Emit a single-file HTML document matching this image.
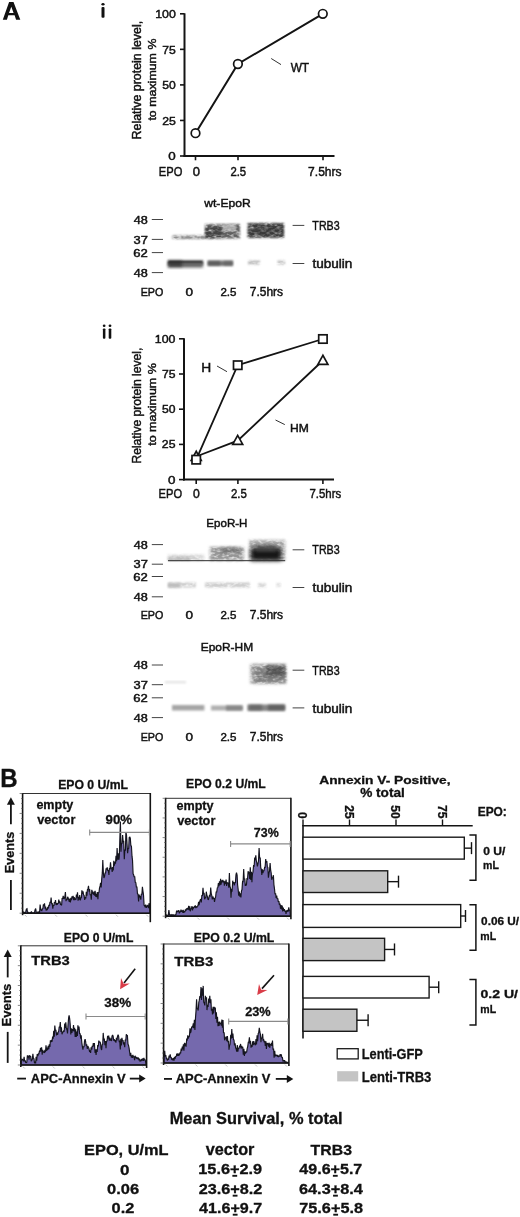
<!DOCTYPE html>
<html><head><meta charset="utf-8"><style>
html,body{margin:0;padding:0;background:#fff;}
body{width:520px;height:1217px;overflow:hidden;}
svg{display:block;font-family:"Liberation Sans",sans-serif;filter:blur(0.3px);}
</style></head><body>
<svg width="520" height="1217" viewBox="0 0 520 1217">
<defs>
<filter id="b4" x="-20%" y="-50%" width="140%" height="200%"><feGaussianBlur stdDeviation="0.4"/></filter>
<filter id="t4" x="-20%" y="-50%" width="140%" height="200%" color-interpolation-filters="sRGB"><feGaussianBlur in="SourceGraphic" stdDeviation="0.4" result="bl"/><feTurbulence type="fractalNoise" baseFrequency="0.22 0.4" numOctaves="2" seed="4" result="n"/><feColorMatrix in="n" type="matrix" values="0 0 0 0 0  0 0 0 0 0  0 0 0 0 0  0 0 0 1.70 0.00" result="na"/><feComposite in="bl" in2="na" operator="in"/><feGaussianBlur stdDeviation="0.35"/></filter>
<filter id="b5" x="-20%" y="-50%" width="140%" height="200%"><feGaussianBlur stdDeviation="0.5"/></filter>
<filter id="t5" x="-20%" y="-50%" width="140%" height="200%" color-interpolation-filters="sRGB"><feGaussianBlur in="SourceGraphic" stdDeviation="0.5" result="bl"/><feTurbulence type="fractalNoise" baseFrequency="0.22 0.4" numOctaves="2" seed="5" result="n"/><feColorMatrix in="n" type="matrix" values="0 0 0 0 0  0 0 0 0 0  0 0 0 0 0  0 0 0 1.70 0.00" result="na"/><feComposite in="bl" in2="na" operator="in"/><feGaussianBlur stdDeviation="0.35"/></filter>
<filter id="b6" x="-20%" y="-50%" width="140%" height="200%"><feGaussianBlur stdDeviation="0.6"/></filter>
<filter id="t6" x="-20%" y="-50%" width="140%" height="200%" color-interpolation-filters="sRGB"><feGaussianBlur in="SourceGraphic" stdDeviation="0.6" result="bl"/><feTurbulence type="fractalNoise" baseFrequency="0.22 0.4" numOctaves="2" seed="6" result="n"/><feColorMatrix in="n" type="matrix" values="0 0 0 0 0  0 0 0 0 0  0 0 0 0 0  0 0 0 1.70 0.00" result="na"/><feComposite in="bl" in2="na" operator="in"/><feGaussianBlur stdDeviation="0.35"/></filter>
<filter id="b7" x="-20%" y="-50%" width="140%" height="200%"><feGaussianBlur stdDeviation="0.7"/></filter>
<filter id="t7" x="-20%" y="-50%" width="140%" height="200%" color-interpolation-filters="sRGB"><feGaussianBlur in="SourceGraphic" stdDeviation="0.7" result="bl"/><feTurbulence type="fractalNoise" baseFrequency="0.22 0.4" numOctaves="2" seed="7" result="n"/><feColorMatrix in="n" type="matrix" values="0 0 0 0 0  0 0 0 0 0  0 0 0 0 0  0 0 0 1.70 0.00" result="na"/><feComposite in="bl" in2="na" operator="in"/><feGaussianBlur stdDeviation="0.35"/></filter>
<filter id="b8" x="-20%" y="-50%" width="140%" height="200%"><feGaussianBlur stdDeviation="0.8"/></filter>
<filter id="t8" x="-20%" y="-50%" width="140%" height="200%" color-interpolation-filters="sRGB"><feGaussianBlur in="SourceGraphic" stdDeviation="0.8" result="bl"/><feTurbulence type="fractalNoise" baseFrequency="0.22 0.4" numOctaves="2" seed="8" result="n"/><feColorMatrix in="n" type="matrix" values="0 0 0 0 0  0 0 0 0 0  0 0 0 0 0  0 0 0 1.70 0.00" result="na"/><feComposite in="bl" in2="na" operator="in"/><feGaussianBlur stdDeviation="0.35"/></filter>
<filter id="b9" x="-20%" y="-50%" width="140%" height="200%"><feGaussianBlur stdDeviation="0.9"/></filter>
<filter id="t9" x="-20%" y="-50%" width="140%" height="200%" color-interpolation-filters="sRGB"><feGaussianBlur in="SourceGraphic" stdDeviation="0.9" result="bl"/><feTurbulence type="fractalNoise" baseFrequency="0.22 0.4" numOctaves="2" seed="9" result="n"/><feColorMatrix in="n" type="matrix" values="0 0 0 0 0  0 0 0 0 0  0 0 0 0 0  0 0 0 1.70 0.00" result="na"/><feComposite in="bl" in2="na" operator="in"/><feGaussianBlur stdDeviation="0.35"/></filter>
<filter id="b10" x="-20%" y="-50%" width="140%" height="200%"><feGaussianBlur stdDeviation="1.0"/></filter>
<filter id="t10" x="-20%" y="-50%" width="140%" height="200%" color-interpolation-filters="sRGB"><feGaussianBlur in="SourceGraphic" stdDeviation="1.0" result="bl"/><feTurbulence type="fractalNoise" baseFrequency="0.22 0.4" numOctaves="2" seed="10" result="n"/><feColorMatrix in="n" type="matrix" values="0 0 0 0 0  0 0 0 0 0  0 0 0 0 0  0 0 0 1.70 0.00" result="na"/><feComposite in="bl" in2="na" operator="in"/><feGaussianBlur stdDeviation="0.35"/></filter>
<filter id="b11" x="-20%" y="-50%" width="140%" height="200%"><feGaussianBlur stdDeviation="1.1"/></filter>
<filter id="t11" x="-20%" y="-50%" width="140%" height="200%" color-interpolation-filters="sRGB"><feGaussianBlur in="SourceGraphic" stdDeviation="1.1" result="bl"/><feTurbulence type="fractalNoise" baseFrequency="0.22 0.4" numOctaves="2" seed="11" result="n"/><feColorMatrix in="n" type="matrix" values="0 0 0 0 0  0 0 0 0 0  0 0 0 0 0  0 0 0 1.70 0.00" result="na"/><feComposite in="bl" in2="na" operator="in"/><feGaussianBlur stdDeviation="0.35"/></filter>
<filter id="b12" x="-20%" y="-50%" width="140%" height="200%"><feGaussianBlur stdDeviation="1.2"/></filter>
<filter id="t12" x="-20%" y="-50%" width="140%" height="200%" color-interpolation-filters="sRGB"><feGaussianBlur in="SourceGraphic" stdDeviation="1.2" result="bl"/><feTurbulence type="fractalNoise" baseFrequency="0.22 0.4" numOctaves="2" seed="12" result="n"/><feColorMatrix in="n" type="matrix" values="0 0 0 0 0  0 0 0 0 0  0 0 0 0 0  0 0 0 1.70 0.00" result="na"/><feComposite in="bl" in2="na" operator="in"/><feGaussianBlur stdDeviation="0.35"/></filter>
<filter id="b13" x="-20%" y="-50%" width="140%" height="200%"><feGaussianBlur stdDeviation="1.3"/></filter>
<filter id="t13" x="-20%" y="-50%" width="140%" height="200%" color-interpolation-filters="sRGB"><feGaussianBlur in="SourceGraphic" stdDeviation="1.3" result="bl"/><feTurbulence type="fractalNoise" baseFrequency="0.22 0.4" numOctaves="2" seed="13" result="n"/><feColorMatrix in="n" type="matrix" values="0 0 0 0 0  0 0 0 0 0  0 0 0 0 0  0 0 0 1.70 0.00" result="na"/><feComposite in="bl" in2="na" operator="in"/><feGaussianBlur stdDeviation="0.35"/></filter>
<filter id="b14" x="-20%" y="-50%" width="140%" height="200%"><feGaussianBlur stdDeviation="1.4"/></filter>
<filter id="t14" x="-20%" y="-50%" width="140%" height="200%" color-interpolation-filters="sRGB"><feGaussianBlur in="SourceGraphic" stdDeviation="1.4" result="bl"/><feTurbulence type="fractalNoise" baseFrequency="0.22 0.4" numOctaves="2" seed="14" result="n"/><feColorMatrix in="n" type="matrix" values="0 0 0 0 0  0 0 0 0 0  0 0 0 0 0  0 0 0 1.70 0.00" result="na"/><feComposite in="bl" in2="na" operator="in"/><feGaussianBlur stdDeviation="0.35"/></filter>
<filter id="b15" x="-20%" y="-50%" width="140%" height="200%"><feGaussianBlur stdDeviation="1.5"/></filter>
<filter id="t15" x="-20%" y="-50%" width="140%" height="200%" color-interpolation-filters="sRGB"><feGaussianBlur in="SourceGraphic" stdDeviation="1.5" result="bl"/><feTurbulence type="fractalNoise" baseFrequency="0.22 0.4" numOctaves="2" seed="15" result="n"/><feColorMatrix in="n" type="matrix" values="0 0 0 0 0  0 0 0 0 0  0 0 0 0 0  0 0 0 1.70 0.00" result="na"/><feComposite in="bl" in2="na" operator="in"/><feGaussianBlur stdDeviation="0.35"/></filter>
<filter id="b16" x="-20%" y="-50%" width="140%" height="200%"><feGaussianBlur stdDeviation="1.6"/></filter>
<filter id="t16" x="-20%" y="-50%" width="140%" height="200%" color-interpolation-filters="sRGB"><feGaussianBlur in="SourceGraphic" stdDeviation="1.6" result="bl"/><feTurbulence type="fractalNoise" baseFrequency="0.22 0.4" numOctaves="2" seed="16" result="n"/><feColorMatrix in="n" type="matrix" values="0 0 0 0 0  0 0 0 0 0  0 0 0 0 0  0 0 0 1.70 0.00" result="na"/><feComposite in="bl" in2="na" operator="in"/><feGaussianBlur stdDeviation="0.35"/></filter>
<filter id="b17" x="-20%" y="-50%" width="140%" height="200%"><feGaussianBlur stdDeviation="1.7"/></filter>
<filter id="t17" x="-20%" y="-50%" width="140%" height="200%" color-interpolation-filters="sRGB"><feGaussianBlur in="SourceGraphic" stdDeviation="1.7" result="bl"/><feTurbulence type="fractalNoise" baseFrequency="0.22 0.4" numOctaves="2" seed="17" result="n"/><feColorMatrix in="n" type="matrix" values="0 0 0 0 0  0 0 0 0 0  0 0 0 0 0  0 0 0 1.70 0.00" result="na"/><feComposite in="bl" in2="na" operator="in"/><feGaussianBlur stdDeviation="0.35"/></filter>
<filter id="b18" x="-20%" y="-50%" width="140%" height="200%"><feGaussianBlur stdDeviation="1.8"/></filter>
<filter id="t18" x="-20%" y="-50%" width="140%" height="200%" color-interpolation-filters="sRGB"><feGaussianBlur in="SourceGraphic" stdDeviation="1.8" result="bl"/><feTurbulence type="fractalNoise" baseFrequency="0.22 0.4" numOctaves="2" seed="18" result="n"/><feColorMatrix in="n" type="matrix" values="0 0 0 0 0  0 0 0 0 0  0 0 0 0 0  0 0 0 1.70 0.00" result="na"/><feComposite in="bl" in2="na" operator="in"/><feGaussianBlur stdDeviation="0.35"/></filter>
<filter id="b19" x="-20%" y="-50%" width="140%" height="200%"><feGaussianBlur stdDeviation="1.9"/></filter>
<filter id="t19" x="-20%" y="-50%" width="140%" height="200%" color-interpolation-filters="sRGB"><feGaussianBlur in="SourceGraphic" stdDeviation="1.9" result="bl"/><feTurbulence type="fractalNoise" baseFrequency="0.22 0.4" numOctaves="2" seed="19" result="n"/><feColorMatrix in="n" type="matrix" values="0 0 0 0 0  0 0 0 0 0  0 0 0 0 0  0 0 0 1.70 0.00" result="na"/><feComposite in="bl" in2="na" operator="in"/><feGaussianBlur stdDeviation="0.35"/></filter>
<filter id="b20" x="-20%" y="-50%" width="140%" height="200%"><feGaussianBlur stdDeviation="2.0"/></filter>
<filter id="t20" x="-20%" y="-50%" width="140%" height="200%" color-interpolation-filters="sRGB"><feGaussianBlur in="SourceGraphic" stdDeviation="2.0" result="bl"/><feTurbulence type="fractalNoise" baseFrequency="0.22 0.4" numOctaves="2" seed="20" result="n"/><feColorMatrix in="n" type="matrix" values="0 0 0 0 0  0 0 0 0 0  0 0 0 0 0  0 0 0 1.70 0.00" result="na"/><feComposite in="bl" in2="na" operator="in"/><feGaussianBlur stdDeviation="0.35"/></filter>
<filter id="b21" x="-20%" y="-50%" width="140%" height="200%"><feGaussianBlur stdDeviation="2.1"/></filter>
<filter id="t21" x="-20%" y="-50%" width="140%" height="200%" color-interpolation-filters="sRGB"><feGaussianBlur in="SourceGraphic" stdDeviation="2.1" result="bl"/><feTurbulence type="fractalNoise" baseFrequency="0.22 0.4" numOctaves="2" seed="21" result="n"/><feColorMatrix in="n" type="matrix" values="0 0 0 0 0  0 0 0 0 0  0 0 0 0 0  0 0 0 1.70 0.00" result="na"/><feComposite in="bl" in2="na" operator="in"/><feGaussianBlur stdDeviation="0.35"/></filter>
<filter id="b22" x="-20%" y="-50%" width="140%" height="200%"><feGaussianBlur stdDeviation="2.2"/></filter>
<filter id="t22" x="-20%" y="-50%" width="140%" height="200%" color-interpolation-filters="sRGB"><feGaussianBlur in="SourceGraphic" stdDeviation="2.2" result="bl"/><feTurbulence type="fractalNoise" baseFrequency="0.22 0.4" numOctaves="2" seed="22" result="n"/><feColorMatrix in="n" type="matrix" values="0 0 0 0 0  0 0 0 0 0  0 0 0 0 0  0 0 0 1.70 0.00" result="na"/><feComposite in="bl" in2="na" operator="in"/><feGaussianBlur stdDeviation="0.35"/></filter>
<filter id="b23" x="-20%" y="-50%" width="140%" height="200%"><feGaussianBlur stdDeviation="2.3"/></filter>
<filter id="t23" x="-20%" y="-50%" width="140%" height="200%" color-interpolation-filters="sRGB"><feGaussianBlur in="SourceGraphic" stdDeviation="2.3" result="bl"/><feTurbulence type="fractalNoise" baseFrequency="0.22 0.4" numOctaves="2" seed="23" result="n"/><feColorMatrix in="n" type="matrix" values="0 0 0 0 0  0 0 0 0 0  0 0 0 0 0  0 0 0 1.70 0.00" result="na"/><feComposite in="bl" in2="na" operator="in"/><feGaussianBlur stdDeviation="0.35"/></filter>
<filter id="b24" x="-20%" y="-50%" width="140%" height="200%"><feGaussianBlur stdDeviation="2.4"/></filter>
<filter id="t24" x="-20%" y="-50%" width="140%" height="200%" color-interpolation-filters="sRGB"><feGaussianBlur in="SourceGraphic" stdDeviation="2.4" result="bl"/><feTurbulence type="fractalNoise" baseFrequency="0.22 0.4" numOctaves="2" seed="24" result="n"/><feColorMatrix in="n" type="matrix" values="0 0 0 0 0  0 0 0 0 0  0 0 0 0 0  0 0 0 1.70 0.00" result="na"/><feComposite in="bl" in2="na" operator="in"/><feGaussianBlur stdDeviation="0.35"/></filter>
<filter id="b25" x="-20%" y="-50%" width="140%" height="200%"><feGaussianBlur stdDeviation="2.5"/></filter>
<filter id="t25" x="-20%" y="-50%" width="140%" height="200%" color-interpolation-filters="sRGB"><feGaussianBlur in="SourceGraphic" stdDeviation="2.5" result="bl"/><feTurbulence type="fractalNoise" baseFrequency="0.22 0.4" numOctaves="2" seed="25" result="n"/><feColorMatrix in="n" type="matrix" values="0 0 0 0 0  0 0 0 0 0  0 0 0 0 0  0 0 0 1.70 0.00" result="na"/><feComposite in="bl" in2="na" operator="in"/><feGaussianBlur stdDeviation="0.35"/></filter>
</defs>
<rect width="520" height="1217" fill="#fff"/>
<path d="M2.8,19.7 L9.1,2.0 L13.5,2.0 L20.3,19.7 L16.1,19.7 L14.6,15.3 L8.3,15.3 L6.9,19.7 Z M11.3,6.8 L9.0,12.9 L13.6,12.9 Z" fill="#111" fill-rule="evenodd"/>
<rect x="101.50" y="6.90" width="3.00" height="10.90" rx="1.05" fill="#111"/>
<ellipse cx="103.00" cy="4.25" rx="1.60" ry="1.35" fill="#111"/>
<line x1="184.50" y1="13.30" x2="184.50" y2="157.00" stroke="#141414" stroke-width="2.00"/>
<line x1="183.50" y1="156.00" x2="334.50" y2="156.00" stroke="#141414" stroke-width="2.00"/>
<line x1="180.00" y1="13.80" x2="184.50" y2="13.80" stroke="#141414" stroke-width="1.60"/>
<line x1="180.00" y1="49.35" x2="184.50" y2="49.35" stroke="#141414" stroke-width="1.60"/>
<line x1="180.00" y1="84.90" x2="184.50" y2="84.90" stroke="#141414" stroke-width="1.60"/>
<line x1="180.00" y1="120.45" x2="184.50" y2="120.45" stroke="#141414" stroke-width="1.60"/>
<line x1="180.00" y1="156.00" x2="184.50" y2="156.00" stroke="#141414" stroke-width="1.60"/>
<line x1="195.50" y1="156.00" x2="195.50" y2="160.30" stroke="#141414" stroke-width="1.60"/>
<line x1="238.00" y1="156.00" x2="238.00" y2="160.30" stroke="#141414" stroke-width="1.60"/>
<line x1="323.00" y1="156.00" x2="323.00" y2="160.30" stroke="#141414" stroke-width="1.60"/>
<text x="155.17" y="18.19" font-size="11.31" font-weight="normal" textLength="20.60" lengthAdjust="spacingAndGlyphs" fill="#111" stroke="#111" stroke-width="0.45">100</text>
<text x="162.29" y="53.69" font-size="11.47" font-weight="normal" textLength="13.52" lengthAdjust="spacingAndGlyphs" fill="#111" stroke="#111" stroke-width="0.45">75</text>
<text x="162.32" y="89.19" font-size="11.31" font-weight="normal" textLength="13.47" lengthAdjust="spacingAndGlyphs" fill="#111" stroke="#111" stroke-width="0.45">50</text>
<text x="162.19" y="124.69" font-size="11.31" font-weight="normal" textLength="13.63" lengthAdjust="spacingAndGlyphs" fill="#111" stroke="#111" stroke-width="0.45">25</text>
<text x="168.36" y="160.09" font-size="11.31" font-weight="normal" textLength="7.45" lengthAdjust="spacingAndGlyphs" fill="#111" stroke="#111" stroke-width="0.45">0</text>
<g transform="rotate(-90 138.40 80.20)">
<text x="79.13" y="83.31" font-size="12.01" font-weight="normal" textLength="118.65" lengthAdjust="spacingAndGlyphs" fill="#111" stroke="#111" stroke-width="0.45">Relative protein level,</text>
</g>
<g transform="rotate(-90 151.60 79.70)">
<text x="110.71" y="83.75" font-size="11.17" font-weight="normal" textLength="82.02" lengthAdjust="spacingAndGlyphs" fill="#111" stroke="#111" stroke-width="0.45">to maximum %</text>
</g>
<text x="158.78" y="175.50" font-size="12.19" font-weight="normal" textLength="23.54" lengthAdjust="spacingAndGlyphs" fill="#111" stroke="#111" stroke-width="0.45">EPO</text>
<text x="192.88" y="175.50" font-size="11.90" font-weight="normal" textLength="7.22" lengthAdjust="spacingAndGlyphs" fill="#111" stroke="#111" stroke-width="0.45">0</text>
<text x="230.43" y="175.50" font-size="11.90" font-weight="normal" textLength="15.72" lengthAdjust="spacingAndGlyphs" fill="#111" stroke="#111" stroke-width="0.45">2.5</text>
<text x="308.10" y="175.50" font-size="12.55" font-weight="normal" textLength="33.52" lengthAdjust="spacingAndGlyphs" fill="#111" stroke="#111" stroke-width="0.45">7.5hrs</text>
<polyline points="195.5,133.2 237.9,64.0 322.8,13.8" fill="none" stroke="#141414" stroke-width="2"/>
<circle cx="195.5" cy="133.2" r="4.3" fill="#fff" stroke="#141414" stroke-width="1.7"/>
<circle cx="237.9" cy="64.0" r="4.3" fill="#fff" stroke="#141414" stroke-width="1.7"/>
<circle cx="322.8" cy="13.8" r="4.3" fill="#fff" stroke="#141414" stroke-width="1.7"/>
<line x1="271.20" y1="58.50" x2="281.00" y2="64.60" stroke="#333" stroke-width="1.00"/>
<text x="290.64" y="71.90" font-size="12.95" font-weight="normal" textLength="18.52" lengthAdjust="spacingAndGlyphs" fill="#111" stroke="#111" stroke-width="0.45">WT</text>
<text x="204.23" y="206.80" font-size="11.78" font-weight="normal" textLength="46.54" lengthAdjust="spacingAndGlyphs" fill="#111" stroke="#111" stroke-width="0.45">wt-EpoR</text>
<text x="133.72" y="223.79" font-size="10.88" font-weight="normal" textLength="14.05" lengthAdjust="spacingAndGlyphs" fill="#111" stroke="#111" stroke-width="0.45">48</text>
<line x1="151.80" y1="219.50" x2="163.00" y2="219.50" stroke="#444" stroke-width="1.00"/>
<text x="133.52" y="243.69" font-size="10.88" font-weight="normal" textLength="14.36" lengthAdjust="spacingAndGlyphs" fill="#111" stroke="#111" stroke-width="0.45">37</text>
<line x1="151.80" y1="239.40" x2="163.00" y2="239.40" stroke="#444" stroke-width="1.00"/>
<text x="133.35" y="256.89" font-size="10.88" font-weight="normal" textLength="14.54" lengthAdjust="spacingAndGlyphs" fill="#111" stroke="#111" stroke-width="0.45">62</text>
<line x1="151.80" y1="252.60" x2="163.00" y2="252.60" stroke="#444" stroke-width="1.00"/>
<text x="133.72" y="276.89" font-size="10.88" font-weight="normal" textLength="14.05" lengthAdjust="spacingAndGlyphs" fill="#111" stroke="#111" stroke-width="0.45">48</text>
<line x1="151.80" y1="272.60" x2="163.00" y2="272.60" stroke="#444" stroke-width="1.00"/>
<line x1="292.60" y1="225.40" x2="304.30" y2="225.40" stroke="#444" stroke-width="1.00"/>
<text x="312.36" y="229.70" font-size="12.76" font-weight="normal" textLength="27.31" lengthAdjust="spacingAndGlyphs" fill="#111" stroke="#111" stroke-width="0.45">TRB3</text>
<line x1="292.60" y1="263.50" x2="304.30" y2="263.50" stroke="#444" stroke-width="1.00"/>
<text x="312.40" y="268.20" font-size="12.00" font-weight="normal" textLength="39.98" lengthAdjust="spacingAndGlyphs" fill="#111" stroke="#111" stroke-width="0.45">tubulin</text>
<text x="140.71" y="296.00" font-size="11.61" font-weight="normal" textLength="22.69" lengthAdjust="spacingAndGlyphs" fill="#111" stroke="#111" stroke-width="0.45">EPO</text>
<text x="185.46" y="296.20" font-size="11.61" font-weight="normal" textLength="7.57" lengthAdjust="spacingAndGlyphs" fill="#111" stroke="#111" stroke-width="0.45">0</text>
<text x="220.42" y="296.20" font-size="11.61" font-weight="normal" textLength="16.04" lengthAdjust="spacingAndGlyphs" fill="#111" stroke="#111" stroke-width="0.45">2.5</text>
<text x="249.80" y="296.20" font-size="12.14" font-weight="normal" textLength="33.31" lengthAdjust="spacingAndGlyphs" fill="#111" stroke="#111" stroke-width="0.45">7.5hrs</text>
<rect x="172.5" y="235.5" width="32.5" height="3.5" fill="rgb(130,130,130)" opacity="1.00" filter="url(#t8)"/>
<rect x="205.0" y="224.0" width="35.0" height="14.5" fill="rgb(95,95,95)" opacity="1.00" filter="url(#t12)"/>
<rect x="222.0" y="224.0" width="14.0" height="7.0" fill="rgb(200,200,200)" opacity="0.70" filter="url(#b12)"/>
<rect x="205.0" y="227.0" width="17.0" height="11.5" fill="rgb(50,50,50)" opacity="0.60" filter="url(#t12)"/>
<rect x="247.5" y="223.0" width="36.5" height="15.0" fill="rgb(70,70,70)" opacity="1.00" filter="url(#t12)"/>
<rect x="249.0" y="225.0" width="34.0" height="11.0" fill="rgb(45,45,45)" opacity="0.50" filter="url(#t15)"/>
<rect x="168.0" y="260.5" width="35.0" height="4.0" fill="rgb(30,30,30)" opacity="1.00" filter="url(#b12)"/>
<rect x="168.0" y="262.5" width="35.0" height="5.0" fill="rgb(100,100,100)" opacity="1.00" filter="url(#b14)"/>
<rect x="168.0" y="260.5" width="14.0" height="6.5" fill="rgb(20,20,20)" opacity="0.50" filter="url(#b14)"/>
<rect x="207.5" y="260.5" width="25.5" height="5.5" fill="rgb(115,115,115)" opacity="1.00" filter="url(#b12)"/>
<rect x="208.0" y="261.0" width="12.0" height="4.5" fill="rgb(80,80,80)" opacity="0.60" filter="url(#b12)"/>
<rect x="224.0" y="261.0" width="9.0" height="4.5" fill="rgb(90,90,90)" opacity="0.50" filter="url(#b12)"/>
<rect x="248.0" y="260.5" width="12.0" height="4.0" fill="rgb(190,190,190)" opacity="1.00" filter="url(#t12)"/>
<rect x="277.5" y="260.5" width="7.5" height="4.0" fill="rgb(190,190,190)" opacity="1.00" filter="url(#t12)"/>
<line x1="184.00" y1="338.30" x2="184.00" y2="480.60" stroke="#141414" stroke-width="2.00"/>
<line x1="183.00" y1="479.60" x2="334.00" y2="479.60" stroke="#141414" stroke-width="2.00"/>
<line x1="179.00" y1="338.80" x2="184.00" y2="338.80" stroke="#141414" stroke-width="1.60"/>
<line x1="179.00" y1="374.00" x2="184.00" y2="374.00" stroke="#141414" stroke-width="1.60"/>
<line x1="179.00" y1="409.20" x2="184.00" y2="409.20" stroke="#141414" stroke-width="1.60"/>
<line x1="179.00" y1="444.40" x2="184.00" y2="444.40" stroke="#141414" stroke-width="1.60"/>
<line x1="179.00" y1="479.60" x2="184.00" y2="479.60" stroke="#141414" stroke-width="1.60"/>
<line x1="196.20" y1="479.60" x2="196.20" y2="484.00" stroke="#141414" stroke-width="1.60"/>
<line x1="237.90" y1="479.60" x2="237.90" y2="484.00" stroke="#141414" stroke-width="1.60"/>
<line x1="322.90" y1="479.60" x2="322.90" y2="484.00" stroke="#141414" stroke-width="1.60"/>
<rect x="102.90" y="328.40" width="2.50" height="10.30" rx="0.88" fill="#111"/>
<ellipse cx="104.15" cy="325.75" rx="1.35" ry="1.25" fill="#111"/>
<rect x="108.70" y="328.40" width="2.60" height="10.30" rx="0.91" fill="#111"/>
<ellipse cx="110.00" cy="325.75" rx="1.40" ry="1.25" fill="#111"/>
<text x="154.87" y="343.49" font-size="11.31" font-weight="normal" textLength="20.60" lengthAdjust="spacingAndGlyphs" fill="#111" stroke="#111" stroke-width="0.45">100</text>
<text x="161.99" y="377.89" font-size="11.47" font-weight="normal" textLength="13.52" lengthAdjust="spacingAndGlyphs" fill="#111" stroke="#111" stroke-width="0.45">75</text>
<text x="162.02" y="413.49" font-size="11.31" font-weight="normal" textLength="13.47" lengthAdjust="spacingAndGlyphs" fill="#111" stroke="#111" stroke-width="0.45">50</text>
<text x="161.89" y="448.49" font-size="11.31" font-weight="normal" textLength="13.63" lengthAdjust="spacingAndGlyphs" fill="#111" stroke="#111" stroke-width="0.45">25</text>
<text x="168.06" y="483.89" font-size="11.31" font-weight="normal" textLength="7.45" lengthAdjust="spacingAndGlyphs" fill="#111" stroke="#111" stroke-width="0.45">0</text>
<g transform="rotate(-90 138.20 405.70)">
<text x="80.30" y="408.86" font-size="12.23" font-weight="normal" textLength="115.90" lengthAdjust="spacingAndGlyphs" fill="#111" stroke="#111" stroke-width="0.45">Relative protein level,</text>
</g>
<g transform="rotate(-90 151.60 404.60)">
<text x="110.36" y="408.65" font-size="11.17" font-weight="normal" textLength="82.72" lengthAdjust="spacingAndGlyphs" fill="#111" stroke="#111" stroke-width="0.45">to maximum %</text>
</g>
<text x="158.58" y="497.50" font-size="12.19" font-weight="normal" textLength="23.44" lengthAdjust="spacingAndGlyphs" fill="#111" stroke="#111" stroke-width="0.45">EPO</text>
<text x="193.11" y="497.50" font-size="11.90" font-weight="normal" textLength="6.76" lengthAdjust="spacingAndGlyphs" fill="#111" stroke="#111" stroke-width="0.45">0</text>
<text x="230.93" y="497.50" font-size="11.90" font-weight="normal" textLength="15.83" lengthAdjust="spacingAndGlyphs" fill="#111" stroke="#111" stroke-width="0.45">2.5</text>
<text x="309.43" y="497.50" font-size="12.41" font-weight="normal" textLength="31.76" lengthAdjust="spacingAndGlyphs" fill="#111" stroke="#111" stroke-width="0.45">7.5hrs</text>
<polyline points="196.2,459.7 237.7,365.2 322.9,339.0" fill="none" stroke="#141414" stroke-width="1.8"/>
<polyline points="196.2,456.5 237.7,440.6 322.9,360.5" fill="none" stroke="#141414" stroke-width="1.8"/>
<polygon points="196.2,451.3 191.2,460.3 201.2,460.3" fill="#fff" stroke="#141414" stroke-width="1.7" stroke-linejoin="miter"/>
<polygon points="237.7,435.4 232.7,444.4 242.7,444.4" fill="#fff" stroke="#141414" stroke-width="1.7" stroke-linejoin="miter"/>
<polygon points="322.9,355.3 317.9,364.3 327.9,364.3" fill="#fff" stroke="#141414" stroke-width="1.7" stroke-linejoin="miter"/>
<rect x="192.0" y="455.5" width="8.4" height="8.4" fill="#fff" stroke="#141414" stroke-width="1.7"/>
<rect x="233.5" y="361.0" width="8.4" height="8.4" fill="#fff" stroke="#141414" stroke-width="1.7"/>
<rect x="318.7" y="334.8" width="8.4" height="8.4" fill="#fff" stroke="#141414" stroke-width="1.7"/>
<line x1="217.00" y1="366.00" x2="227.00" y2="371.70" stroke="#333" stroke-width="1.00"/>
<text x="201.16" y="371.70" font-size="12.65" font-weight="normal" textLength="9.97" lengthAdjust="spacingAndGlyphs" fill="#111" stroke="#111" stroke-width="0.45">H</text>
<line x1="275.50" y1="420.00" x2="284.80" y2="424.60" stroke="#333" stroke-width="1.00"/>
<text x="290.00" y="431.70" font-size="11.20" font-weight="normal" textLength="18.80" lengthAdjust="spacingAndGlyphs" fill="#111" stroke="#111" stroke-width="0.45">HM</text>
<text x="206.35" y="527.30" font-size="11.78" font-weight="normal" textLength="41.10" lengthAdjust="spacingAndGlyphs" fill="#111" stroke="#111" stroke-width="0.45">EpoR-H</text>
<text x="133.72" y="548.89" font-size="10.88" font-weight="normal" textLength="14.05" lengthAdjust="spacingAndGlyphs" fill="#111" stroke="#111" stroke-width="0.45">48</text>
<line x1="151.80" y1="544.60" x2="163.00" y2="544.60" stroke="#444" stroke-width="1.00"/>
<text x="133.52" y="568.49" font-size="10.88" font-weight="normal" textLength="14.36" lengthAdjust="spacingAndGlyphs" fill="#111" stroke="#111" stroke-width="0.45">37</text>
<line x1="151.80" y1="564.20" x2="163.00" y2="564.20" stroke="#444" stroke-width="1.00"/>
<text x="133.35" y="580.79" font-size="10.88" font-weight="normal" textLength="14.54" lengthAdjust="spacingAndGlyphs" fill="#111" stroke="#111" stroke-width="0.45">62</text>
<line x1="151.80" y1="576.50" x2="163.00" y2="576.50" stroke="#444" stroke-width="1.00"/>
<text x="133.72" y="601.09" font-size="10.88" font-weight="normal" textLength="14.05" lengthAdjust="spacingAndGlyphs" fill="#111" stroke="#111" stroke-width="0.45">48</text>
<line x1="151.80" y1="596.80" x2="163.00" y2="596.80" stroke="#444" stroke-width="1.00"/>
<line x1="292.60" y1="549.80" x2="304.30" y2="549.80" stroke="#444" stroke-width="1.00"/>
<text x="312.36" y="554.10" font-size="12.76" font-weight="normal" textLength="27.31" lengthAdjust="spacingAndGlyphs" fill="#111" stroke="#111" stroke-width="0.45">TRB3</text>
<line x1="292.60" y1="587.50" x2="304.30" y2="587.50" stroke="#444" stroke-width="1.00"/>
<text x="312.40" y="592.20" font-size="12.00" font-weight="normal" textLength="39.98" lengthAdjust="spacingAndGlyphs" fill="#111" stroke="#111" stroke-width="0.45">tubulin</text>
<text x="140.71" y="619.20" font-size="11.61" font-weight="normal" textLength="22.69" lengthAdjust="spacingAndGlyphs" fill="#111" stroke="#111" stroke-width="0.45">EPO</text>
<text x="185.46" y="619.40" font-size="11.61" font-weight="normal" textLength="7.57" lengthAdjust="spacingAndGlyphs" fill="#111" stroke="#111" stroke-width="0.45">0</text>
<text x="220.42" y="619.40" font-size="11.61" font-weight="normal" textLength="16.04" lengthAdjust="spacingAndGlyphs" fill="#111" stroke="#111" stroke-width="0.45">2.5</text>
<text x="249.80" y="619.40" font-size="12.14" font-weight="normal" textLength="33.31" lengthAdjust="spacingAndGlyphs" fill="#111" stroke="#111" stroke-width="0.45">7.5hrs</text>
<rect x="168.0" y="555.0" width="36.0" height="5.5" fill="rgb(205,205,205)" opacity="1.00" filter="url(#t15)"/>
<rect x="168.0" y="557.5" width="22.0" height="3.0" fill="rgb(170,170,170)" opacity="0.70" filter="url(#b12)"/>
<rect x="209.8" y="547.0" width="34.2" height="13.5" fill="rgb(150,150,150)" opacity="1.00" filter="url(#t15)"/>
<rect x="220.0" y="547.0" width="20.0" height="6.0" fill="rgb(95,95,95)" opacity="0.60" filter="url(#t16)"/>
<rect x="249.0" y="540.0" width="36.2" height="20.5" fill="rgb(165,165,165)" opacity="1.00" filter="url(#t15)"/>
<rect x="251.0" y="548.0" width="30.0" height="12.5" fill="rgb(25,25,25)" opacity="1.00" filter="url(#b20)"/>
<rect x="256.0" y="545.0" width="20.0" height="7.0" fill="rgb(70,70,70)" opacity="0.70" filter="url(#b18)"/>
<line x1="168.00" y1="560.70" x2="285.20" y2="560.70" stroke="#2a2a2a" stroke-width="1.00"/>
<rect x="168.0" y="582.5" width="28.0" height="5.0" fill="rgb(205,205,205)" opacity="1.00" filter="url(#t13)"/>
<rect x="168.0" y="583.0" width="12.0" height="4.5" fill="rgb(190,190,190)" opacity="1.00" filter="url(#b13)"/>
<rect x="205.0" y="582.5" width="45.0" height="5.0" fill="rgb(205,205,205)" opacity="1.00" filter="url(#t13)"/>
<rect x="258.0" y="583.0" width="8.0" height="4.5" fill="rgb(215,215,215)" opacity="1.00" filter="url(#t12)"/>
<rect x="276.0" y="583.0" width="5.0" height="4.0" fill="rgb(225,225,225)" opacity="1.00" filter="url(#t10)"/>
<text x="200.71" y="650.50" font-size="11.78" font-weight="normal" textLength="52.47" lengthAdjust="spacingAndGlyphs" fill="#111" stroke="#111" stroke-width="0.45">EpoR-HM</text>
<text x="133.72" y="669.29" font-size="10.88" font-weight="normal" textLength="14.05" lengthAdjust="spacingAndGlyphs" fill="#111" stroke="#111" stroke-width="0.45">48</text>
<line x1="151.80" y1="665.00" x2="163.00" y2="665.00" stroke="#444" stroke-width="1.00"/>
<text x="133.52" y="688.99" font-size="10.88" font-weight="normal" textLength="14.36" lengthAdjust="spacingAndGlyphs" fill="#111" stroke="#111" stroke-width="0.45">37</text>
<line x1="151.80" y1="684.70" x2="163.00" y2="684.70" stroke="#444" stroke-width="1.00"/>
<text x="133.35" y="702.09" font-size="10.88" font-weight="normal" textLength="14.54" lengthAdjust="spacingAndGlyphs" fill="#111" stroke="#111" stroke-width="0.45">62</text>
<line x1="151.80" y1="697.80" x2="163.00" y2="697.80" stroke="#444" stroke-width="1.00"/>
<text x="133.72" y="721.89" font-size="10.88" font-weight="normal" textLength="14.05" lengthAdjust="spacingAndGlyphs" fill="#111" stroke="#111" stroke-width="0.45">48</text>
<line x1="151.80" y1="717.60" x2="163.00" y2="717.60" stroke="#444" stroke-width="1.00"/>
<line x1="292.60" y1="670.20" x2="304.30" y2="670.20" stroke="#444" stroke-width="1.00"/>
<text x="312.36" y="674.50" font-size="12.76" font-weight="normal" textLength="27.31" lengthAdjust="spacingAndGlyphs" fill="#111" stroke="#111" stroke-width="0.45">TRB3</text>
<line x1="292.60" y1="707.90" x2="304.30" y2="707.90" stroke="#444" stroke-width="1.00"/>
<text x="312.40" y="712.60" font-size="12.00" font-weight="normal" textLength="39.98" lengthAdjust="spacingAndGlyphs" fill="#111" stroke="#111" stroke-width="0.45">tubulin</text>
<text x="140.71" y="740.60" font-size="11.61" font-weight="normal" textLength="22.69" lengthAdjust="spacingAndGlyphs" fill="#111" stroke="#111" stroke-width="0.45">EPO</text>
<text x="185.46" y="740.80" font-size="11.61" font-weight="normal" textLength="7.57" lengthAdjust="spacingAndGlyphs" fill="#111" stroke="#111" stroke-width="0.45">0</text>
<text x="220.42" y="740.80" font-size="11.61" font-weight="normal" textLength="16.04" lengthAdjust="spacingAndGlyphs" fill="#111" stroke="#111" stroke-width="0.45">2.5</text>
<text x="249.80" y="740.80" font-size="12.14" font-weight="normal" textLength="33.31" lengthAdjust="spacingAndGlyphs" fill="#111" stroke="#111" stroke-width="0.45">7.5hrs</text>
<rect x="250.5" y="664.0" width="35.5" height="19.7" fill="rgb(150,150,150)" opacity="1.00" filter="url(#t16)"/>
<rect x="255.0" y="668.0" width="31.0" height="14.0" fill="rgb(120,120,120)" opacity="0.80" filter="url(#t16)"/>
<rect x="266.0" y="665.5" width="19.0" height="10.5" fill="rgb(80,80,80)" opacity="0.90" filter="url(#t18)"/>
<rect x="165.0" y="681.3" width="21.0" height="1.9" fill="rgb(222,222,222)" opacity="1.00" filter="url(#b8)"/>
<rect x="172.0" y="705.0" width="32.4" height="5.5" fill="rgb(165,165,165)" opacity="1.00" filter="url(#b12)"/>
<rect x="211.0" y="705.5" width="31.0" height="5.0" fill="rgb(175,175,175)" opacity="1.00" filter="url(#b12)"/>
<rect x="226.0" y="705.5" width="17.0" height="5.0" fill="rgb(125,125,125)" opacity="0.80" filter="url(#b13)"/>
<rect x="247.5" y="704.5" width="37.5" height="6.5" fill="rgb(135,135,135)" opacity="1.00" filter="url(#b12)"/>
<rect x="249.0" y="705.0" width="13.0" height="5.0" fill="rgb(95,95,95)" opacity="0.80" filter="url(#b14)"/>
<rect x="268.0" y="705.0" width="17.0" height="5.0" fill="rgb(90,90,90)" opacity="0.90" filter="url(#b14)"/>
<text x="0.17" y="786.50" font-size="26.33" font-weight="bold" textLength="17.40" lengthAdjust="spacingAndGlyphs" fill="#111" stroke="#111" stroke-width="0.30">B</text>
<path d="M23.1,913.2 L23.1,912.9 L23.7,912.1 L24.2,912.9 L24.8,912.5 L25.3,912.9 L25.9,911.2 L26.4,909.1 L27.0,908.7 L27.5,912.9 L28.1,912.4 L28.6,912.9 L29.2,912.9 L29.7,912.9 L30.3,912.7 L30.8,912.9 L31.4,911.5 L31.9,912.9 L32.5,912.9 L33.0,912.9 L33.6,912.9 L34.1,912.9 L34.6,912.0 L35.2,909.4 L35.7,908.5 L36.3,912.7 L36.8,912.9 L37.4,912.8 L37.9,912.0 L38.5,912.9 L39.0,912.0 L39.6,912.8 L40.1,904.6 L40.7,909.0 L41.2,910.3 L41.8,910.7 L42.3,909.1 L42.9,908.4 L43.4,904.4 L44.0,906.0 L44.5,903.4 L45.1,908.8 L45.6,906.7 L46.2,910.6 L46.7,909.1 L47.3,909.5 L47.8,906.8 L48.4,908.5 L48.9,904.9 L49.5,905.9 L50.0,901.7 L50.6,902.7 L51.1,897.5 L51.7,904.2 L52.2,903.1 L52.8,908.7 L53.3,904.8 L53.9,906.0 L54.4,902.0 L55.0,902.8 L55.5,900.0 L56.1,905.0 L56.6,903.2 L57.2,904.8 L57.7,903.5 L58.3,903.3 L58.8,899.5 L59.4,903.0 L59.9,901.3 L60.5,904.4 L61.0,904.7 L61.6,905.3 L62.1,898.5 L62.7,898.5 L63.2,895.9 L63.8,898.6 L64.3,898.7 L64.9,896.3 L65.4,892.0 L66.0,901.1 L66.5,899.0 L67.1,900.0 L67.6,896.8 L68.2,897.9 L68.7,899.9 L69.3,901.7 L69.8,898.5 L70.4,902.5 L70.9,897.8 L71.5,900.2 L72.0,896.3 L72.6,898.4 L73.1,895.9 L73.7,900.2 L74.2,897.1 L74.8,900.2 L75.3,898.3 L75.9,899.7 L76.4,894.6 L77.0,897.7 L77.5,892.3 L78.1,900.6 L78.6,896.7 L79.2,899.7 L79.7,895.1 L80.3,900.5 L80.8,898.1 L81.4,897.5 L81.9,890.3 L82.5,894.0 L83.0,891.4 L83.6,895.0 L84.1,895.3 L84.7,899.8 L85.2,897.0 L85.8,898.5 L86.3,891.8 L86.9,895.8 L87.4,889.6 L88.0,888.7 L88.5,885.8 L89.1,891.7 L89.6,889.0 L90.2,895.3 L90.7,894.3 L91.3,899.8 L91.8,889.8 L92.4,891.8 L92.9,893.6 L93.5,894.1 L94.0,891.7 L94.6,895.7 L95.1,890.7 L95.7,896.8 L96.2,893.8 L96.8,897.1 L97.3,892.1 L97.9,899.2 L98.4,892.8 L99.0,892.3 L99.5,888.2 L100.1,885.9 L100.6,882.9 L101.2,887.5 L101.7,879.3 L102.3,872.9 L102.8,860.0 L103.4,873.3 L103.9,878.0 L104.5,876.5 L105.0,873.2 L105.6,872.8 L106.1,868.4 L106.7,869.5 L107.2,867.3 L107.8,870.8 L108.3,870.1 L108.9,875.0 L109.4,868.6 L110.0,868.9 L110.5,862.2 L111.1,868.6 L111.6,867.5 L112.2,871.9 L112.7,867.0 L113.3,870.4 L113.8,860.8 L114.4,865.6 L114.9,861.7 L115.5,863.6 L116.0,855.9 L116.6,861.2 L117.1,848.1 L117.7,859.8 L118.2,853.4 L118.8,859.8 L119.3,857.1 L119.9,836.9 L120.4,821.4 L121.0,851.7 L121.5,843.1 L122.1,843.6 L122.6,835.0 L123.2,842.0 L123.7,840.7 L124.3,859.2 L124.8,850.1 L125.4,850.1 L125.9,832.0 L126.5,835.0 L127.0,843.4 L127.6,853.3 L128.1,848.9 L128.7,848.4 L129.2,837.5 L129.8,837.1 L130.3,838.1 L130.9,846.2 L131.4,845.7 L132.0,856.2 L132.5,859.9 L133.1,873.8 L133.6,874.8 L134.2,877.0 L134.7,876.4 L135.3,882.8 L135.8,882.4 L136.4,887.5 L136.9,886.5 L137.5,894.2 L138.0,893.8 L138.6,901.4 L139.1,894.6 L139.7,897.3 L140.2,895.8 L140.8,899.7 L141.3,894.2 L141.9,894.2 L142.4,886.8 L143.0,891.3 L143.5,894.9 L144.1,905.3 L144.6,905.7 L145.2,907.3 L145.7,904.5 L146.3,907.8 L146.8,906.4 L147.4,905.5 L147.9,906.0 L148.5,908.1 L149.0,903.4 L149.6,903.9 L149.8,913.2 Z" fill="#7569ad" stroke="#15151f" stroke-width="1.15" stroke-linejoin="miter" stroke-miterlimit="2"/>
<line x1="22.60" y1="793.50" x2="150.30" y2="793.50" stroke="#333" stroke-width="1.00"/>
<line x1="22.60" y1="793.00" x2="22.60" y2="915.20" stroke="#141414" stroke-width="1.60"/>
<line x1="150.30" y1="793.00" x2="150.30" y2="922.20" stroke="#141414" stroke-width="1.60"/>
<line x1="22.60" y1="913.20" x2="150.30" y2="913.20" stroke="#141414" stroke-width="1.60"/>
<line x1="19.60" y1="793.50" x2="22.60" y2="793.50" stroke="#555" stroke-width="0.70"/>
<line x1="21.10" y1="798.49" x2="22.60" y2="798.49" stroke="#555" stroke-width="0.70"/>
<line x1="21.10" y1="803.48" x2="22.60" y2="803.48" stroke="#555" stroke-width="0.70"/>
<line x1="21.10" y1="808.46" x2="22.60" y2="808.46" stroke="#555" stroke-width="0.70"/>
<line x1="19.60" y1="813.45" x2="22.60" y2="813.45" stroke="#555" stroke-width="0.70"/>
<line x1="21.10" y1="818.44" x2="22.60" y2="818.44" stroke="#555" stroke-width="0.70"/>
<line x1="21.10" y1="823.42" x2="22.60" y2="823.42" stroke="#555" stroke-width="0.70"/>
<line x1="21.10" y1="828.41" x2="22.60" y2="828.41" stroke="#555" stroke-width="0.70"/>
<line x1="19.60" y1="833.40" x2="22.60" y2="833.40" stroke="#555" stroke-width="0.70"/>
<line x1="21.10" y1="838.39" x2="22.60" y2="838.39" stroke="#555" stroke-width="0.70"/>
<line x1="21.10" y1="843.38" x2="22.60" y2="843.38" stroke="#555" stroke-width="0.70"/>
<line x1="21.10" y1="848.36" x2="22.60" y2="848.36" stroke="#555" stroke-width="0.70"/>
<line x1="19.60" y1="853.35" x2="22.60" y2="853.35" stroke="#555" stroke-width="0.70"/>
<line x1="21.10" y1="858.34" x2="22.60" y2="858.34" stroke="#555" stroke-width="0.70"/>
<line x1="21.10" y1="863.33" x2="22.60" y2="863.33" stroke="#555" stroke-width="0.70"/>
<line x1="21.10" y1="868.31" x2="22.60" y2="868.31" stroke="#555" stroke-width="0.70"/>
<line x1="19.60" y1="873.30" x2="22.60" y2="873.30" stroke="#555" stroke-width="0.70"/>
<line x1="21.10" y1="878.29" x2="22.60" y2="878.29" stroke="#555" stroke-width="0.70"/>
<line x1="21.10" y1="883.28" x2="22.60" y2="883.28" stroke="#555" stroke-width="0.70"/>
<line x1="21.10" y1="888.26" x2="22.60" y2="888.26" stroke="#555" stroke-width="0.70"/>
<line x1="19.60" y1="893.25" x2="22.60" y2="893.25" stroke="#555" stroke-width="0.70"/>
<line x1="21.10" y1="898.24" x2="22.60" y2="898.24" stroke="#555" stroke-width="0.70"/>
<line x1="21.10" y1="903.23" x2="22.60" y2="903.23" stroke="#555" stroke-width="0.70"/>
<line x1="21.10" y1="908.21" x2="22.60" y2="908.21" stroke="#555" stroke-width="0.70"/>
<line x1="19.60" y1="913.20" x2="22.60" y2="913.20" stroke="#555" stroke-width="0.70"/>
<line x1="24.60" y1="914.70" x2="26.60" y2="916.70" stroke="#999" stroke-width="0.60"/>
<line x1="55.03" y1="914.70" x2="57.03" y2="916.70" stroke="#999" stroke-width="0.60"/>
<line x1="85.45" y1="914.70" x2="87.45" y2="916.70" stroke="#999" stroke-width="0.60"/>
<line x1="115.88" y1="914.70" x2="117.88" y2="916.70" stroke="#999" stroke-width="0.60"/>
<line x1="146.30" y1="914.70" x2="148.30" y2="916.70" stroke="#999" stroke-width="0.60"/>
<path d="M166.1,916.0 L166.1,915.7 L166.7,915.0 L167.2,915.7 L167.8,915.4 L168.3,914.8 L168.9,910.0 L169.4,914.4 L170.0,914.6 L170.5,915.7 L171.1,914.8 L171.6,915.7 L172.2,914.6 L172.7,915.7 L173.3,914.5 L173.8,915.7 L174.4,915.1 L174.9,915.7 L175.5,914.8 L176.0,914.5 L176.6,910.6 L177.1,912.4 L177.7,910.8 L178.2,911.6 L178.8,910.2 L179.3,913.4 L179.9,911.5 L180.4,912.1 L181.0,909.6 L181.5,911.8 L182.1,910.4 L182.6,912.6 L183.2,909.8 L183.7,912.9 L184.3,911.2 L184.8,912.1 L185.4,909.4 L185.9,911.0 L186.5,908.3 L187.0,909.5 L187.6,908.1 L188.1,909.7 L188.7,905.8 L189.2,910.3 L189.8,906.2 L190.3,911.3 L190.9,908.6 L191.4,908.7 L192.0,906.0 L192.5,910.4 L193.1,907.2 L193.6,907.9 L194.2,906.8 L194.7,907.5 L195.3,905.4 L195.8,908.1 L196.4,906.8 L196.9,907.2 L197.5,905.9 L198.0,905.8 L198.6,901.8 L199.1,905.2 L199.7,901.7 L200.2,900.1 L200.8,899.0 L201.3,902.5 L201.9,895.0 L202.4,896.0 L203.0,887.7 L203.5,894.2 L204.1,892.9 L204.6,899.3 L205.2,896.9 L205.7,898.2 L206.3,891.7 L206.8,894.8 L207.4,896.7 L207.9,899.2 L208.5,899.4 L209.0,897.2 L209.6,894.9 L210.1,896.7 L210.7,887.5 L211.2,893.3 L211.8,895.5 L212.3,899.4 L212.9,896.5 L213.4,898.4 L214.0,898.4 L214.5,901.9 L215.1,898.4 L215.6,897.2 L216.2,891.5 L216.7,892.4 L217.3,887.9 L217.8,887.7 L218.4,883.0 L218.9,886.3 L219.5,881.2 L220.0,885.2 L220.6,878.9 L221.1,884.8 L221.7,880.2 L222.2,882.5 L222.8,879.8 L223.3,882.3 L223.9,880.7 L224.4,885.6 L225.0,881.3 L225.5,884.0 L226.1,879.6 L226.6,886.0 L227.2,882.7 L227.7,883.0 L228.3,883.0 L228.8,887.8 L229.4,873.0 L229.9,886.1 L230.5,888.0 L231.0,897.6 L231.6,888.7 L232.1,891.7 L232.7,880.7 L233.2,883.6 L233.8,882.1 L234.3,885.5 L234.9,882.7 L235.4,882.5 L236.0,874.5 L236.5,872.6 L237.1,875.1 L237.6,884.8 L238.2,889.7 L238.7,895.6 L239.3,891.6 L239.8,896.7 L240.4,893.3 L240.9,897.4 L241.5,890.8 L242.0,889.5 L242.6,880.7 L243.1,882.2 L243.7,869.1 L244.2,879.2 L244.8,878.6 L245.3,885.9 L245.9,883.8 L246.4,885.5 L247.0,878.0 L247.5,879.6 L248.1,871.2 L248.6,874.2 L249.2,871.7 L249.7,878.9 L250.3,867.2 L250.8,880.0 L251.4,871.8 L251.9,882.2 L252.5,873.5 L253.0,871.8 L253.6,865.1 L254.1,866.8 L254.7,857.6 L255.2,860.2 L255.8,855.2 L256.3,860.8 L256.9,863.2 L257.4,866.4 L258.0,863.3 L258.5,861.0 L259.1,848.0 L259.6,858.2 L260.2,857.6 L260.7,867.3 L261.3,869.3 L261.8,874.9 L262.4,869.2 L262.9,873.0 L263.5,870.8 L264.0,870.7 L264.6,867.3 L265.1,867.3 L265.7,859.0 L266.2,862.6 L266.8,861.0 L267.3,866.4 L267.9,867.7 L268.4,877.7 L269.0,873.1 L269.5,871.2 L270.1,863.0 L270.6,869.6 L271.2,873.0 L271.7,879.8 L272.3,878.0 L272.8,877.4 L273.4,875.2 L273.9,884.5 L274.5,888.8 L275.0,894.2 L275.6,893.2 L276.1,898.0 L276.7,895.5 L277.2,899.0 L277.8,898.3 L278.3,902.0 L278.9,901.2 L279.4,904.9 L280.0,903.5 L280.5,908.8 L281.1,905.1 L281.6,909.5 L282.2,905.5 L282.7,911.5 L283.3,907.5 L283.8,910.9 L284.4,909.2 L284.9,911.7 L285.5,910.7 L286.0,913.9 L286.6,911.0 L287.1,911.3 L287.7,909.9 L288.2,911.6 L288.8,907.4 L289.3,910.5 L289.9,910.0 L290.4,916.0 Z" fill="#7569ad" stroke="#15151f" stroke-width="1.15" stroke-linejoin="miter" stroke-miterlimit="2"/>
<line x1="165.60" y1="798.30" x2="290.90" y2="798.30" stroke="#333" stroke-width="1.00"/>
<line x1="165.60" y1="797.80" x2="165.60" y2="918.20" stroke="#141414" stroke-width="1.60"/>
<line x1="290.90" y1="797.80" x2="290.90" y2="919.20" stroke="#141414" stroke-width="1.60"/>
<line x1="165.60" y1="916.20" x2="290.90" y2="916.20" stroke="#141414" stroke-width="1.60"/>
<line x1="162.60" y1="798.30" x2="165.60" y2="798.30" stroke="#555" stroke-width="0.70"/>
<line x1="164.10" y1="803.21" x2="165.60" y2="803.21" stroke="#555" stroke-width="0.70"/>
<line x1="164.10" y1="808.12" x2="165.60" y2="808.12" stroke="#555" stroke-width="0.70"/>
<line x1="164.10" y1="813.04" x2="165.60" y2="813.04" stroke="#555" stroke-width="0.70"/>
<line x1="162.60" y1="817.95" x2="165.60" y2="817.95" stroke="#555" stroke-width="0.70"/>
<line x1="164.10" y1="822.86" x2="165.60" y2="822.86" stroke="#555" stroke-width="0.70"/>
<line x1="164.10" y1="827.77" x2="165.60" y2="827.77" stroke="#555" stroke-width="0.70"/>
<line x1="164.10" y1="832.69" x2="165.60" y2="832.69" stroke="#555" stroke-width="0.70"/>
<line x1="162.60" y1="837.60" x2="165.60" y2="837.60" stroke="#555" stroke-width="0.70"/>
<line x1="164.10" y1="842.51" x2="165.60" y2="842.51" stroke="#555" stroke-width="0.70"/>
<line x1="164.10" y1="847.42" x2="165.60" y2="847.42" stroke="#555" stroke-width="0.70"/>
<line x1="164.10" y1="852.34" x2="165.60" y2="852.34" stroke="#555" stroke-width="0.70"/>
<line x1="162.60" y1="857.25" x2="165.60" y2="857.25" stroke="#555" stroke-width="0.70"/>
<line x1="164.10" y1="862.16" x2="165.60" y2="862.16" stroke="#555" stroke-width="0.70"/>
<line x1="164.10" y1="867.08" x2="165.60" y2="867.08" stroke="#555" stroke-width="0.70"/>
<line x1="164.10" y1="871.99" x2="165.60" y2="871.99" stroke="#555" stroke-width="0.70"/>
<line x1="162.60" y1="876.90" x2="165.60" y2="876.90" stroke="#555" stroke-width="0.70"/>
<line x1="164.10" y1="881.81" x2="165.60" y2="881.81" stroke="#555" stroke-width="0.70"/>
<line x1="164.10" y1="886.73" x2="165.60" y2="886.73" stroke="#555" stroke-width="0.70"/>
<line x1="164.10" y1="891.64" x2="165.60" y2="891.64" stroke="#555" stroke-width="0.70"/>
<line x1="162.60" y1="896.55" x2="165.60" y2="896.55" stroke="#555" stroke-width="0.70"/>
<line x1="164.10" y1="901.46" x2="165.60" y2="901.46" stroke="#555" stroke-width="0.70"/>
<line x1="164.10" y1="906.38" x2="165.60" y2="906.38" stroke="#555" stroke-width="0.70"/>
<line x1="164.10" y1="911.29" x2="165.60" y2="911.29" stroke="#555" stroke-width="0.70"/>
<line x1="162.60" y1="916.20" x2="165.60" y2="916.20" stroke="#555" stroke-width="0.70"/>
<line x1="167.60" y1="917.70" x2="169.60" y2="919.70" stroke="#999" stroke-width="0.60"/>
<line x1="197.42" y1="917.70" x2="199.42" y2="919.70" stroke="#999" stroke-width="0.60"/>
<line x1="227.25" y1="917.70" x2="229.25" y2="919.70" stroke="#999" stroke-width="0.60"/>
<line x1="257.07" y1="917.70" x2="259.07" y2="919.70" stroke="#999" stroke-width="0.60"/>
<line x1="286.90" y1="917.70" x2="288.90" y2="919.70" stroke="#999" stroke-width="0.60"/>
<path d="M21.3,1065.0 L21.3,1060.8 L21.9,1059.2 L22.4,1059.5 L23.0,1060.4 L23.5,1061.1 L24.1,1056.8 L24.6,1061.1 L25.2,1060.4 L25.7,1062.6 L26.3,1062.7 L26.8,1062.3 L27.4,1055.3 L27.9,1057.5 L28.5,1055.5 L29.0,1059.6 L29.6,1055.3 L30.1,1056.3 L30.7,1056.4 L31.2,1061.1 L31.8,1060.2 L32.3,1059.3 L32.9,1053.8 L33.4,1058.2 L34.0,1058.8 L34.5,1063.3 L35.0,1061.8 L35.6,1063.4 L36.1,1056.8 L36.7,1060.7 L37.2,1054.1 L37.8,1056.2 L38.3,1053.8 L38.9,1053.9 L39.4,1051.3 L40.0,1051.8 L40.5,1047.8 L41.1,1051.3 L41.6,1047.3 L42.2,1054.7 L42.7,1049.9 L43.3,1052.4 L43.8,1051.6 L44.4,1053.0 L44.9,1049.9 L45.5,1052.2 L46.0,1045.2 L46.6,1051.0 L47.1,1047.6 L47.7,1050.0 L48.2,1045.9 L48.8,1049.1 L49.3,1044.2 L49.9,1047.0 L50.4,1040.4 L51.0,1042.0 L51.5,1040.0 L52.1,1041.8 L52.6,1036.5 L53.2,1038.8 L53.7,1030.8 L54.3,1036.6 L54.8,1025.6 L55.4,1031.0 L55.9,1029.9 L56.5,1035.4 L57.0,1032.7 L57.6,1034.9 L58.1,1032.1 L58.7,1031.2 L59.2,1026.7 L59.8,1027.4 L60.3,1022.1 L60.9,1031.9 L61.4,1027.2 L62.0,1034.3 L62.5,1032.9 L63.1,1031.7 L63.6,1031.0 L64.2,1031.6 L64.7,1023.5 L65.3,1027.9 L65.8,1022.2 L66.4,1029.4 L66.9,1028.4 L67.5,1033.5 L68.0,1025.4 L68.6,1018.1 L69.1,1015.3 L69.7,1018.8 L70.2,1024.4 L70.8,1034.4 L71.3,1028.2 L71.9,1032.9 L72.4,1029.1 L73.0,1031.1 L73.5,1025.0 L74.1,1031.5 L74.6,1027.7 L75.2,1036.9 L75.7,1029.2 L76.3,1037.0 L76.8,1031.6 L77.4,1036.0 L77.9,1025.4 L78.5,1030.1 L79.0,1026.5 L79.6,1033.9 L80.1,1033.4 L80.7,1038.7 L81.2,1035.2 L81.8,1042.6 L82.3,1046.1 L82.9,1049.7 L83.4,1046.3 L84.0,1047.3 L84.5,1041.2 L85.1,1039.1 L85.6,1041.4 L86.2,1046.0 L86.7,1044.3 L87.3,1048.9 L87.8,1046.0 L88.4,1047.3 L88.9,1048.3 L89.5,1051.3 L90.0,1050.9 L90.6,1052.9 L91.1,1047.3 L91.7,1049.7 L92.2,1045.7 L92.8,1046.8 L93.3,1043.0 L93.9,1046.1 L94.4,1043.1 L95.0,1052.8 L95.5,1049.3 L96.1,1055.0 L96.6,1049.4 L97.2,1051.9 L97.7,1045.0 L98.3,1046.4 L98.8,1040.6 L99.4,1042.4 L99.9,1041.6 L100.5,1043.2 L101.0,1047.8 L101.6,1050.0 L102.1,1044.9 L102.7,1044.4 L103.2,1032.9 L103.8,1040.4 L104.3,1038.5 L104.9,1045.1 L105.4,1041.1 L106.0,1048.2 L106.5,1041.2 L107.1,1040.8 L107.6,1035.8 L108.2,1038.6 L108.7,1035.6 L109.3,1040.6 L109.8,1037.7 L110.4,1039.9 L110.9,1039.4 L111.5,1041.0 L112.0,1036.2 L112.6,1035.0 L113.1,1036.2 L113.7,1040.8 L114.2,1039.3 L114.8,1040.9 L115.3,1040.6 L115.9,1042.7 L116.4,1037.7 L117.0,1040.5 L117.5,1036.3 L118.1,1034.7 L118.6,1036.2 L119.2,1041.4 L119.7,1041.2 L120.3,1049.4 L120.8,1038.8 L121.4,1045.4 L121.9,1037.9 L122.5,1041.0 L123.0,1040.2 L123.6,1044.5 L124.1,1042.3 L124.7,1047.1 L125.2,1039.7 L125.8,1040.4 L126.3,1034.3 L126.9,1035.1 L127.4,1035.6 L128.0,1044.2 L128.5,1045.2 L129.1,1048.2 L129.6,1052.0 L130.2,1055.9 L130.7,1052.7 L131.3,1057.5 L131.8,1055.4 L132.4,1057.8 L132.9,1054.9 L133.5,1057.1 L134.0,1056.4 L134.6,1060.1 L135.1,1055.7 L135.7,1057.9 L136.2,1057.0 L136.8,1058.9 L137.3,1057.9 L137.9,1058.7 L138.4,1058.2 L139.0,1060.3 L139.5,1058.5 L140.1,1061.7 L140.6,1059.7 L141.2,1061.1 L141.7,1059.0 L142.3,1060.6 L142.8,1058.4 L143.4,1060.9 L143.9,1057.8 L144.5,1060.3 L145.0,1059.4 L145.6,1061.7 L146.1,1065.0 Z" fill="#7569ad" stroke="#15151f" stroke-width="1.15" stroke-linejoin="miter" stroke-miterlimit="2"/>
<line x1="20.80" y1="945.80" x2="146.60" y2="945.80" stroke="#333" stroke-width="1.00"/>
<line x1="20.80" y1="945.30" x2="20.80" y2="1067.00" stroke="#141414" stroke-width="1.60"/>
<line x1="146.60" y1="945.30" x2="146.60" y2="1068.00" stroke="#141414" stroke-width="1.60"/>
<line x1="20.80" y1="1065.00" x2="146.60" y2="1065.00" stroke="#141414" stroke-width="1.60"/>
<line x1="17.80" y1="945.80" x2="20.80" y2="945.80" stroke="#555" stroke-width="0.70"/>
<line x1="19.30" y1="950.77" x2="20.80" y2="950.77" stroke="#555" stroke-width="0.70"/>
<line x1="19.30" y1="955.73" x2="20.80" y2="955.73" stroke="#555" stroke-width="0.70"/>
<line x1="19.30" y1="960.70" x2="20.80" y2="960.70" stroke="#555" stroke-width="0.70"/>
<line x1="17.80" y1="965.67" x2="20.80" y2="965.67" stroke="#555" stroke-width="0.70"/>
<line x1="19.30" y1="970.63" x2="20.80" y2="970.63" stroke="#555" stroke-width="0.70"/>
<line x1="19.30" y1="975.60" x2="20.80" y2="975.60" stroke="#555" stroke-width="0.70"/>
<line x1="19.30" y1="980.57" x2="20.80" y2="980.57" stroke="#555" stroke-width="0.70"/>
<line x1="17.80" y1="985.53" x2="20.80" y2="985.53" stroke="#555" stroke-width="0.70"/>
<line x1="19.30" y1="990.50" x2="20.80" y2="990.50" stroke="#555" stroke-width="0.70"/>
<line x1="19.30" y1="995.47" x2="20.80" y2="995.47" stroke="#555" stroke-width="0.70"/>
<line x1="19.30" y1="1000.43" x2="20.80" y2="1000.43" stroke="#555" stroke-width="0.70"/>
<line x1="17.80" y1="1005.40" x2="20.80" y2="1005.40" stroke="#555" stroke-width="0.70"/>
<line x1="19.30" y1="1010.37" x2="20.80" y2="1010.37" stroke="#555" stroke-width="0.70"/>
<line x1="19.30" y1="1015.33" x2="20.80" y2="1015.33" stroke="#555" stroke-width="0.70"/>
<line x1="19.30" y1="1020.30" x2="20.80" y2="1020.30" stroke="#555" stroke-width="0.70"/>
<line x1="17.80" y1="1025.27" x2="20.80" y2="1025.27" stroke="#555" stroke-width="0.70"/>
<line x1="19.30" y1="1030.23" x2="20.80" y2="1030.23" stroke="#555" stroke-width="0.70"/>
<line x1="19.30" y1="1035.20" x2="20.80" y2="1035.20" stroke="#555" stroke-width="0.70"/>
<line x1="19.30" y1="1040.17" x2="20.80" y2="1040.17" stroke="#555" stroke-width="0.70"/>
<line x1="17.80" y1="1045.13" x2="20.80" y2="1045.13" stroke="#555" stroke-width="0.70"/>
<line x1="19.30" y1="1050.10" x2="20.80" y2="1050.10" stroke="#555" stroke-width="0.70"/>
<line x1="19.30" y1="1055.07" x2="20.80" y2="1055.07" stroke="#555" stroke-width="0.70"/>
<line x1="19.30" y1="1060.03" x2="20.80" y2="1060.03" stroke="#555" stroke-width="0.70"/>
<line x1="17.80" y1="1065.00" x2="20.80" y2="1065.00" stroke="#555" stroke-width="0.70"/>
<line x1="22.80" y1="1066.50" x2="24.80" y2="1068.50" stroke="#999" stroke-width="0.60"/>
<line x1="52.75" y1="1066.50" x2="54.75" y2="1068.50" stroke="#999" stroke-width="0.60"/>
<line x1="82.70" y1="1066.50" x2="84.70" y2="1068.50" stroke="#999" stroke-width="0.60"/>
<line x1="112.65" y1="1066.50" x2="114.65" y2="1068.50" stroke="#999" stroke-width="0.60"/>
<line x1="142.60" y1="1066.50" x2="144.60" y2="1068.50" stroke="#999" stroke-width="0.60"/>
<path d="M164.1,1063.0 L164.1,1056.6 L164.7,1050.8 L165.2,1056.5 L165.8,1055.0 L166.3,1058.6 L166.9,1058.5 L167.4,1060.7 L168.0,1058.8 L168.5,1059.6 L169.1,1055.7 L169.6,1057.7 L170.2,1054.4 L170.7,1057.3 L171.3,1057.6 L171.8,1059.9 L172.4,1058.5 L172.9,1060.3 L173.5,1057.8 L174.0,1060.7 L174.6,1056.8 L175.1,1059.0 L175.7,1056.1 L176.2,1056.6 L176.8,1053.6 L177.3,1055.9 L177.9,1053.4 L178.4,1055.7 L179.0,1054.3 L179.5,1054.7 L180.1,1052.5 L180.6,1053.4 L181.2,1048.6 L181.7,1051.0 L182.3,1046.7 L182.8,1049.3 L183.4,1044.2 L183.9,1050.6 L184.5,1042.8 L185.0,1046.2 L185.6,1043.3 L186.1,1046.6 L186.7,1038.6 L187.2,1040.6 L187.8,1035.4 L188.3,1038.5 L188.9,1036.5 L189.4,1036.3 L190.0,1028.3 L190.5,1033.2 L191.1,1030.8 L191.6,1027.2 L192.2,1026.6 L192.7,1027.0 L193.3,1023.4 L193.8,1028.1 L194.4,1019.8 L194.9,1030.0 L195.5,1017.6 L196.0,1011.1 L196.6,999.4 L197.1,1008.7 L197.7,1008.7 L198.2,1010.5 L198.8,1002.5 L199.3,1000.2 L199.9,996.2 L200.4,997.5 L201.0,987.0 L201.5,1000.0 L202.1,988.3 L202.6,995.8 L203.2,985.9 L203.7,1002.0 L204.3,1003.1 L204.8,1005.4 L205.4,995.9 L205.9,999.3 L206.5,997.2 L207.0,1010.1 L207.6,1004.8 L208.1,1006.9 L208.7,998.5 L209.2,1002.7 L209.8,995.8 L210.3,1003.3 L210.9,999.3 L211.4,1010.7 L212.0,1008.8 L212.5,1014.4 L213.1,1006.8 L213.6,1013.5 L214.2,1006.9 L214.7,1009.2 L215.3,1007.5 L215.8,1018.9 L216.4,1012.3 L216.9,1022.8 L217.5,1016.8 L218.0,1026.3 L218.6,1021.7 L219.1,1025.9 L219.7,1021.7 L220.2,1024.0 L220.8,1022.8 L221.3,1025.6 L221.9,1019.6 L222.4,1027.6 L223.0,1020.1 L223.5,1033.0 L224.1,1032.4 L224.6,1040.3 L225.2,1038.9 L225.7,1037.5 L226.3,1036.5 L226.8,1041.3 L227.4,1036.0 L227.9,1042.3 L228.5,1040.7 L229.0,1049.6 L229.6,1045.4 L230.1,1044.2 L230.7,1034.7 L231.2,1038.8 L231.8,1029.1 L232.3,1037.8 L232.9,1033.5 L233.4,1039.5 L234.0,1040.0 L234.5,1045.4 L235.1,1043.3 L235.6,1047.8 L236.2,1049.0 L236.7,1051.7 L237.3,1045.1 L237.8,1051.6 L238.4,1048.3 L238.9,1048.3 L239.5,1046.3 L240.0,1046.6 L240.6,1044.0 L241.1,1048.5 L241.7,1046.0 L242.2,1047.5 L242.8,1047.4 L243.3,1054.8 L243.9,1048.7 L244.4,1055.9 L245.0,1051.3 L245.5,1053.5 L246.1,1051.8 L246.6,1052.5 L247.2,1048.4 L247.7,1046.6 L248.3,1042.3 L248.8,1042.2 L249.4,1037.4 L249.9,1043.8 L250.5,1040.7 L251.0,1047.7 L251.6,1044.9 L252.1,1047.0 L252.7,1041.4 L253.2,1045.1 L253.8,1041.2 L254.3,1043.9 L254.9,1043.5 L255.4,1045.3 L256.0,1039.1 L256.5,1044.5 L257.1,1035.3 L257.6,1041.2 L258.2,1033.5 L258.7,1032.8 L259.3,1027.8 L259.8,1031.7 L260.4,1034.3 L260.9,1042.1 L261.5,1038.0 L262.0,1037.8 L262.6,1033.9 L263.1,1040.0 L263.7,1039.6 L264.2,1042.4 L264.8,1040.9 L265.3,1046.0 L265.9,1041.3 L266.4,1049.0 L267.0,1042.9 L267.5,1044.1 L268.1,1043.3 L268.6,1046.6 L269.2,1042.7 L269.7,1047.8 L270.3,1044.1 L270.8,1045.4 L271.4,1042.8 L271.9,1046.0 L272.5,1040.5 L273.0,1049.1 L273.6,1049.1 L274.1,1057.6 L274.7,1050.8 L275.2,1056.3 L275.8,1055.1 L276.3,1055.6 L276.9,1055.2 L277.4,1056.2 L278.0,1055.6 L278.5,1056.6 L279.1,1056.2 L279.6,1056.2 L280.2,1054.1 L280.7,1056.3 L281.3,1054.3 L281.8,1057.3 L282.4,1057.4 L282.9,1060.9 L283.5,1060.6 L284.0,1061.4 L284.6,1060.2 L285.1,1062.7 L285.7,1061.6 L286.2,1062.7 L286.8,1061.7 L287.3,1062.7 L287.9,1062.6 L288.4,1063.0 Z" fill="#7569ad" stroke="#15151f" stroke-width="1.15" stroke-linejoin="miter" stroke-miterlimit="2"/>
<line x1="163.60" y1="944.00" x2="288.90" y2="944.00" stroke="#333" stroke-width="1.00"/>
<line x1="163.60" y1="943.50" x2="163.60" y2="1065.00" stroke="#141414" stroke-width="1.60"/>
<line x1="288.90" y1="943.50" x2="288.90" y2="1066.00" stroke="#141414" stroke-width="1.60"/>
<line x1="163.60" y1="1063.00" x2="288.90" y2="1063.00" stroke="#141414" stroke-width="1.60"/>
<line x1="160.60" y1="944.00" x2="163.60" y2="944.00" stroke="#555" stroke-width="0.70"/>
<line x1="162.10" y1="948.96" x2="163.60" y2="948.96" stroke="#555" stroke-width="0.70"/>
<line x1="162.10" y1="953.92" x2="163.60" y2="953.92" stroke="#555" stroke-width="0.70"/>
<line x1="162.10" y1="958.88" x2="163.60" y2="958.88" stroke="#555" stroke-width="0.70"/>
<line x1="160.60" y1="963.83" x2="163.60" y2="963.83" stroke="#555" stroke-width="0.70"/>
<line x1="162.10" y1="968.79" x2="163.60" y2="968.79" stroke="#555" stroke-width="0.70"/>
<line x1="162.10" y1="973.75" x2="163.60" y2="973.75" stroke="#555" stroke-width="0.70"/>
<line x1="162.10" y1="978.71" x2="163.60" y2="978.71" stroke="#555" stroke-width="0.70"/>
<line x1="160.60" y1="983.67" x2="163.60" y2="983.67" stroke="#555" stroke-width="0.70"/>
<line x1="162.10" y1="988.62" x2="163.60" y2="988.62" stroke="#555" stroke-width="0.70"/>
<line x1="162.10" y1="993.58" x2="163.60" y2="993.58" stroke="#555" stroke-width="0.70"/>
<line x1="162.10" y1="998.54" x2="163.60" y2="998.54" stroke="#555" stroke-width="0.70"/>
<line x1="160.60" y1="1003.50" x2="163.60" y2="1003.50" stroke="#555" stroke-width="0.70"/>
<line x1="162.10" y1="1008.46" x2="163.60" y2="1008.46" stroke="#555" stroke-width="0.70"/>
<line x1="162.10" y1="1013.42" x2="163.60" y2="1013.42" stroke="#555" stroke-width="0.70"/>
<line x1="162.10" y1="1018.38" x2="163.60" y2="1018.38" stroke="#555" stroke-width="0.70"/>
<line x1="160.60" y1="1023.33" x2="163.60" y2="1023.33" stroke="#555" stroke-width="0.70"/>
<line x1="162.10" y1="1028.29" x2="163.60" y2="1028.29" stroke="#555" stroke-width="0.70"/>
<line x1="162.10" y1="1033.25" x2="163.60" y2="1033.25" stroke="#555" stroke-width="0.70"/>
<line x1="162.10" y1="1038.21" x2="163.60" y2="1038.21" stroke="#555" stroke-width="0.70"/>
<line x1="160.60" y1="1043.17" x2="163.60" y2="1043.17" stroke="#555" stroke-width="0.70"/>
<line x1="162.10" y1="1048.12" x2="163.60" y2="1048.12" stroke="#555" stroke-width="0.70"/>
<line x1="162.10" y1="1053.08" x2="163.60" y2="1053.08" stroke="#555" stroke-width="0.70"/>
<line x1="162.10" y1="1058.04" x2="163.60" y2="1058.04" stroke="#555" stroke-width="0.70"/>
<line x1="160.60" y1="1063.00" x2="163.60" y2="1063.00" stroke="#555" stroke-width="0.70"/>
<line x1="165.60" y1="1064.50" x2="167.60" y2="1066.50" stroke="#999" stroke-width="0.60"/>
<line x1="195.42" y1="1064.50" x2="197.42" y2="1066.50" stroke="#999" stroke-width="0.60"/>
<line x1="225.25" y1="1064.50" x2="227.25" y2="1066.50" stroke="#999" stroke-width="0.60"/>
<line x1="255.07" y1="1064.50" x2="257.07" y2="1066.50" stroke="#999" stroke-width="0.60"/>
<line x1="284.90" y1="1064.50" x2="286.90" y2="1066.50" stroke="#999" stroke-width="0.60"/>
<text x="58.18" y="788.80" font-size="12.69" font-weight="bold" textLength="69.90" lengthAdjust="spacingAndGlyphs" fill="#111" stroke="#111" stroke-width="0.30">EPO 0 U/mL</text>
<text x="186.08" y="788.20" font-size="13.52" font-weight="bold" textLength="79.69" lengthAdjust="spacingAndGlyphs" fill="#111" stroke="#111" stroke-width="0.30">EPO 0.2 U/mL</text>
<text x="63.78" y="941.50" font-size="12.69" font-weight="bold" textLength="69.60" lengthAdjust="spacingAndGlyphs" fill="#111" stroke="#111" stroke-width="0.30">EPO 0 U/mL</text>
<text x="193.87" y="941.50" font-size="13.10" font-weight="bold" textLength="80.50" lengthAdjust="spacingAndGlyphs" fill="#111" stroke="#111" stroke-width="0.30">EPO 0.2 U/mL</text>
<text x="36.40" y="809.15" font-size="12.79" font-weight="bold" textLength="36.97" lengthAdjust="spacingAndGlyphs" fill="#111" stroke="#111" stroke-width="0.30">empty</text>
<text x="37.14" y="824.30" font-size="13.18" font-weight="bold" textLength="38.24" lengthAdjust="spacingAndGlyphs" fill="#111" stroke="#111" stroke-width="0.30">vector</text>
<text x="176.40" y="809.72" font-size="12.91" font-weight="bold" textLength="37.17" lengthAdjust="spacingAndGlyphs" fill="#111" stroke="#111" stroke-width="0.30">empty</text>
<text x="177.14" y="824.90" font-size="13.33" font-weight="bold" textLength="38.24" lengthAdjust="spacingAndGlyphs" fill="#111" stroke="#111" stroke-width="0.30">vector</text>
<text x="105.54" y="824.17" font-size="13.14" font-weight="bold" textLength="26.51" lengthAdjust="spacingAndGlyphs" fill="#111" stroke="#111" stroke-width="0.30">90%</text>
<text x="253.87" y="837.14" font-size="12.68" font-weight="bold" textLength="24.86" lengthAdjust="spacingAndGlyphs" fill="#111" stroke="#111" stroke-width="0.30">73%</text>
<text x="31.25" y="965.20" font-size="13.19" font-weight="bold" textLength="38.48" lengthAdjust="spacingAndGlyphs" fill="#111" stroke="#111" stroke-width="0.30">TRB3</text>
<text x="174.35" y="965.50" font-size="12.76" font-weight="bold" textLength="39.09" lengthAdjust="spacingAndGlyphs" fill="#111" stroke="#111" stroke-width="0.30">TRB3</text>
<text x="104.30" y="1007.23" font-size="13.24" font-weight="bold" textLength="26.86" lengthAdjust="spacingAndGlyphs" fill="#111" stroke="#111" stroke-width="0.30">38%</text>
<text x="245.15" y="1016.04" font-size="12.96" font-weight="bold" textLength="25.59" lengthAdjust="spacingAndGlyphs" fill="#111" stroke="#111" stroke-width="0.30">23%</text>
<line x1="89.70" y1="832.40" x2="149.40" y2="832.40" stroke="#8a8a8a" stroke-width="1.10"/>
<line x1="89.70" y1="829.40" x2="89.70" y2="835.40" stroke="#8a8a8a" stroke-width="1.10"/>
<line x1="149.40" y1="829.40" x2="149.40" y2="835.40" stroke="#8a8a8a" stroke-width="1.10"/>
<line x1="230.60" y1="843.90" x2="290.20" y2="843.90" stroke="#8a8a8a" stroke-width="1.10"/>
<line x1="230.60" y1="840.90" x2="230.60" y2="846.90" stroke="#8a8a8a" stroke-width="1.10"/>
<line x1="290.20" y1="840.90" x2="290.20" y2="846.90" stroke="#8a8a8a" stroke-width="1.10"/>
<line x1="86.00" y1="1016.50" x2="145.20" y2="1016.50" stroke="#8a8a8a" stroke-width="1.10"/>
<line x1="86.00" y1="1013.50" x2="86.00" y2="1019.50" stroke="#8a8a8a" stroke-width="1.10"/>
<line x1="145.20" y1="1013.50" x2="145.20" y2="1019.50" stroke="#8a8a8a" stroke-width="1.10"/>
<line x1="228.70" y1="1021.40" x2="287.90" y2="1021.40" stroke="#8a8a8a" stroke-width="1.10"/>
<line x1="228.70" y1="1018.40" x2="228.70" y2="1024.40" stroke="#8a8a8a" stroke-width="1.10"/>
<line x1="287.90" y1="1018.40" x2="287.90" y2="1024.40" stroke="#8a8a8a" stroke-width="1.10"/>
<line x1="135.20" y1="968.70" x2="124.00" y2="983.00" stroke="#141414" stroke-width="1.60"/>
<polygon points="120.1,989.2 121.0,978.0 123.6,983.7 129.8,983.5" fill="#d93c48"/>
<line x1="274.00" y1="975.20" x2="262.00" y2="988.60" stroke="#141414" stroke-width="1.60"/>
<polygon points="257.2,995.0 259.0,983.9 261.1,989.8 267.4,990.1" fill="#d93c48"/>
<line x1="10.90" y1="803.70" x2="10.90" y2="824.30" stroke="#141414" stroke-width="1.80"/>
<polygon points="10.9,797.2 6.9,804.7 14.9,804.7" fill="#141414"/>
<g transform="rotate(-90 9.80 852.40)">
<text x="-11.16" y="857.00" font-size="13.38" font-weight="bold" textLength="41.59" lengthAdjust="spacingAndGlyphs" fill="#111" stroke="#111" stroke-width="0.30">Events</text>
</g>
<line x1="10.90" y1="880.00" x2="10.90" y2="909.90" stroke="#141414" stroke-width="1.80"/>
<line x1="7.70" y1="956.00" x2="7.70" y2="977.40" stroke="#141414" stroke-width="1.80"/>
<polygon points="7.7,949.6 3.7,957.0 11.7,957.0" fill="#141414"/>
<g transform="rotate(-90 6.65 1004.90)">
<text x="-14.83" y="1009.45" font-size="13.24" font-weight="bold" textLength="42.62" lengthAdjust="spacingAndGlyphs" fill="#111" stroke="#111" stroke-width="0.30">Events</text>
</g>
<line x1="7.70" y1="1031.90" x2="7.70" y2="1062.90" stroke="#141414" stroke-width="1.80"/>
<line x1="17.20" y1="1078.60" x2="26.00" y2="1078.60" stroke="#141414" stroke-width="1.80"/>
<text x="30.88" y="1082.50" font-size="11.86" font-weight="bold" textLength="94.71" lengthAdjust="spacingAndGlyphs" fill="#111" stroke="#111" stroke-width="0.30">APC-Annexin V</text>
<line x1="129.80" y1="1078.60" x2="142.70" y2="1078.60" stroke="#141414" stroke-width="1.80"/>
<polygon points="145.7,1078.6 139.2,1074.6 139.2,1082.6" fill="#141414"/>
<line x1="164.00" y1="1078.90" x2="172.00" y2="1078.90" stroke="#141414" stroke-width="1.80"/>
<text x="175.68" y="1082.80" font-size="11.86" font-weight="bold" textLength="94.81" lengthAdjust="spacingAndGlyphs" fill="#111" stroke="#111" stroke-width="0.30">APC-Annexin V</text>
<line x1="275.80" y1="1078.90" x2="290.30" y2="1078.90" stroke="#141414" stroke-width="1.80"/>
<polygon points="293.3,1078.9 286.8,1074.9 286.8,1082.9" fill="#141414"/>
<line x1="302.50" y1="825.80" x2="472.70" y2="825.80" stroke="#141414" stroke-width="1.60"/>
<line x1="303.00" y1="825.00" x2="303.00" y2="1038.50" stroke="#141414" stroke-width="1.60"/>
<line x1="303.00" y1="819.50" x2="303.00" y2="825.80" stroke="#141414" stroke-width="1.40"/>
<line x1="349.50" y1="819.50" x2="349.50" y2="825.80" stroke="#141414" stroke-width="1.40"/>
<line x1="396.00" y1="819.50" x2="396.00" y2="825.80" stroke="#141414" stroke-width="1.40"/>
<line x1="442.50" y1="819.50" x2="442.50" y2="825.80" stroke="#141414" stroke-width="1.40"/>
<g transform="rotate(90 302.70 815.45)">
<text x="299.37" y="819.73" font-size="12.44" font-weight="bold" textLength="6.67" lengthAdjust="spacingAndGlyphs" fill="#111" stroke="#111" stroke-width="0.30">0</text>
</g>
<g transform="rotate(90 349.20 811.95)">
<text x="342.43" y="816.23" font-size="12.44" font-weight="bold" textLength="13.49" lengthAdjust="spacingAndGlyphs" fill="#111" stroke="#111" stroke-width="0.30">25</text>
</g>
<g transform="rotate(90 395.70 811.95)">
<text x="388.98" y="816.23" font-size="12.44" font-weight="bold" textLength="13.58" lengthAdjust="spacingAndGlyphs" fill="#111" stroke="#111" stroke-width="0.30">50</text>
</g>
<g transform="rotate(90 442.20 811.95)">
<text x="435.33" y="816.22" font-size="12.62" font-weight="bold" textLength="13.58" lengthAdjust="spacingAndGlyphs" fill="#111" stroke="#111" stroke-width="0.30">75</text>
</g>
<text x="319.26" y="783.50" font-size="11.17" font-weight="bold" textLength="131.28" lengthAdjust="spacingAndGlyphs" fill="#111" stroke="#111" stroke-width="0.30">Annexin V- Positive,</text>
<text x="360.16" y="797.17" font-size="12.65" font-weight="bold" textLength="44.70" lengthAdjust="spacingAndGlyphs" fill="#111" stroke="#111" stroke-width="0.30">% total</text>
<text x="477.70" y="816.20" font-size="12.19" font-weight="bold" textLength="29.13" lengthAdjust="spacingAndGlyphs" fill="#111" stroke="#111" stroke-width="0.30">EPO:</text>
<rect x="303.00" y="837.20" width="161.30" height="21.90" fill="#ffffff" stroke="#1a1a1a" stroke-width="1.40"/>
<line x1="464.30" y1="848.15" x2="471.50" y2="848.15" stroke="#141414" stroke-width="1.40"/>
<line x1="471.50" y1="842.15" x2="471.50" y2="854.15" stroke="#141414" stroke-width="1.40"/>
<rect x="303.00" y="870.80" width="84.70" height="21.70" fill="#c4c4c4" stroke="#1a1a1a" stroke-width="1.40"/>
<line x1="387.70" y1="881.65" x2="398.50" y2="881.65" stroke="#141414" stroke-width="1.40"/>
<line x1="398.50" y1="875.65" x2="398.50" y2="887.65" stroke="#141414" stroke-width="1.40"/>
<rect x="303.00" y="904.60" width="157.70" height="22.80" fill="#ffffff" stroke="#1a1a1a" stroke-width="1.40"/>
<line x1="460.70" y1="916.00" x2="465.50" y2="916.00" stroke="#141414" stroke-width="1.40"/>
<line x1="465.50" y1="910.00" x2="465.50" y2="922.00" stroke="#141414" stroke-width="1.40"/>
<rect x="303.00" y="938.30" width="81.60" height="22.30" fill="#c4c4c4" stroke="#1a1a1a" stroke-width="1.40"/>
<line x1="384.60" y1="949.45" x2="394.50" y2="949.45" stroke="#141414" stroke-width="1.40"/>
<line x1="394.50" y1="943.45" x2="394.50" y2="955.45" stroke="#141414" stroke-width="1.40"/>
<rect x="303.00" y="976.40" width="126.10" height="21.60" fill="#ffffff" stroke="#1a1a1a" stroke-width="1.40"/>
<line x1="429.10" y1="987.20" x2="438.70" y2="987.20" stroke="#141414" stroke-width="1.40"/>
<line x1="438.70" y1="981.20" x2="438.70" y2="993.20" stroke="#141414" stroke-width="1.40"/>
<rect x="303.00" y="1009.20" width="53.90" height="22.10" fill="#c4c4c4" stroke="#1a1a1a" stroke-width="1.40"/>
<line x1="356.90" y1="1020.25" x2="368.10" y2="1020.25" stroke="#141414" stroke-width="1.40"/>
<line x1="368.10" y1="1014.25" x2="368.10" y2="1026.25" stroke="#141414" stroke-width="1.40"/>
<polyline points="469.4,835.0 475.9,835.0 475.9,880.3 469.4,880.3" fill="none" stroke="#141414" stroke-width="1.5"/>
<polyline points="469.4,904.8 475.9,904.8 475.9,950.3 469.4,950.3" fill="none" stroke="#141414" stroke-width="1.5"/>
<polyline points="469.4,979.6 475.9,979.6 475.9,1025.0 469.4,1025.0" fill="none" stroke="#141414" stroke-width="1.5"/>
<text x="483.22" y="854.60" font-size="11.17" font-weight="bold" textLength="22.12" lengthAdjust="spacingAndGlyphs" fill="#111" stroke="#111" stroke-width="0.30">0 U/</text>
<text x="483.02" y="868.60" font-size="10.62" font-weight="bold" textLength="15.80" lengthAdjust="spacingAndGlyphs" fill="#111" stroke="#111" stroke-width="0.30">mL</text>
<text x="481.13" y="925.30" font-size="11.03" font-weight="bold" textLength="37.98" lengthAdjust="spacingAndGlyphs" fill="#111" stroke="#111" stroke-width="0.30">0.06 U/</text>
<text x="480.32" y="939.80" font-size="10.47" font-weight="bold" textLength="15.80" lengthAdjust="spacingAndGlyphs" fill="#111" stroke="#111" stroke-width="0.30">mL</text>
<text x="480.44" y="998.00" font-size="10.76" font-weight="bold" textLength="37.51" lengthAdjust="spacingAndGlyphs" fill="#111" stroke="#111" stroke-width="0.30">0.2 U/</text>
<text x="480.32" y="1013.20" font-size="10.47" font-weight="bold" textLength="15.80" lengthAdjust="spacingAndGlyphs" fill="#111" stroke="#111" stroke-width="0.30">mL</text>
<rect x="337.20" y="1048.70" width="21.00" height="10.20" fill="#ffffff" stroke="#1a1a1a" stroke-width="1.30"/>
<rect x="337.20" y="1071.20" width="21.00" height="10.20" fill="#c4c4c4"/>
<text x="361.74" y="1059.10" font-size="14.62" font-weight="bold" textLength="61.11" lengthAdjust="spacingAndGlyphs" fill="#111" stroke="#111" stroke-width="0.30">Lenti-GFP</text>
<text x="361.72" y="1081.60" font-size="14.62" font-weight="bold" textLength="69.65" lengthAdjust="spacingAndGlyphs" fill="#111" stroke="#111" stroke-width="0.30">Lenti-TRB3</text>
<text x="169.69" y="1123.60" font-size="15.59" font-weight="bold" textLength="172.87" lengthAdjust="spacingAndGlyphs" fill="#111" stroke="#111" stroke-width="0.30">Mean Survival, % total</text>
<text x="84.10" y="1155.00" font-size="14.34" font-weight="bold" textLength="84.49" lengthAdjust="spacingAndGlyphs" fill="#111" stroke="#111" stroke-width="0.30">EPO, U/mL</text>
<text x="205.72" y="1154.50" font-size="15.63" font-weight="bold" textLength="48.71" lengthAdjust="spacingAndGlyphs" fill="#111" stroke="#111" stroke-width="0.30">vector</text>
<text x="310.64" y="1154.90" font-size="14.91" font-weight="bold" textLength="41.33" lengthAdjust="spacingAndGlyphs" fill="#111" stroke="#111" stroke-width="0.30">TRB3</text>
<text x="120.12" y="1174.75" font-size="14.84" font-weight="bold" textLength="9.48" lengthAdjust="spacingAndGlyphs" fill="#111" stroke="#111" stroke-width="0.30">0</text>
<text x="107.04" y="1193.75" font-size="14.70" font-weight="bold" textLength="32.06" lengthAdjust="spacingAndGlyphs" fill="#111" stroke="#111" stroke-width="0.30">0.06</text>
<text x="111.64" y="1212.75" font-size="14.70" font-weight="bold" textLength="22.77" lengthAdjust="spacingAndGlyphs" fill="#111" stroke="#111" stroke-width="0.30">0.2</text>
<text x="198.28" y="1174.05" font-size="14.70" font-weight="bold" textLength="63.90" lengthAdjust="spacingAndGlyphs" fill="#111" stroke="#111" stroke-width="0.30">15.6+2.9</text>
<rect x="232.36" y="1174.85" width="4.80" height="1.90" fill="#141414"/>
<text x="198.73" y="1193.92" font-size="14.65" font-weight="bold" textLength="63.68" lengthAdjust="spacingAndGlyphs" fill="#111" stroke="#111" stroke-width="0.30">23.6+8.2</text>
<rect x="232.69" y="1194.72" width="4.80" height="1.90" fill="#141414"/>
<text x="199.06" y="1212.95" font-size="14.70" font-weight="bold" textLength="63.23" lengthAdjust="spacingAndGlyphs" fill="#111" stroke="#111" stroke-width="0.30">41.6+9.7</text>
<rect x="232.76" y="1213.75" width="4.80" height="1.90" fill="#141414"/>
<text x="299.36" y="1174.05" font-size="14.70" font-weight="bold" textLength="62.93" lengthAdjust="spacingAndGlyphs" fill="#111" stroke="#111" stroke-width="0.30">49.6+5.7</text>
<rect x="332.89" y="1174.85" width="4.80" height="1.90" fill="#141414"/>
<text x="298.99" y="1193.92" font-size="14.65" font-weight="bold" textLength="63.90" lengthAdjust="spacingAndGlyphs" fill="#111" stroke="#111" stroke-width="0.30">64.3+8.4</text>
<rect x="333.07" y="1194.72" width="4.80" height="1.90" fill="#141414"/>
<text x="299.31" y="1212.95" font-size="14.70" font-weight="bold" textLength="63.68" lengthAdjust="spacingAndGlyphs" fill="#111" stroke="#111" stroke-width="0.30">75.6+5.8</text>
<rect x="333.27" y="1213.75" width="4.80" height="1.90" fill="#141414"/>
</svg>
</body></html>
